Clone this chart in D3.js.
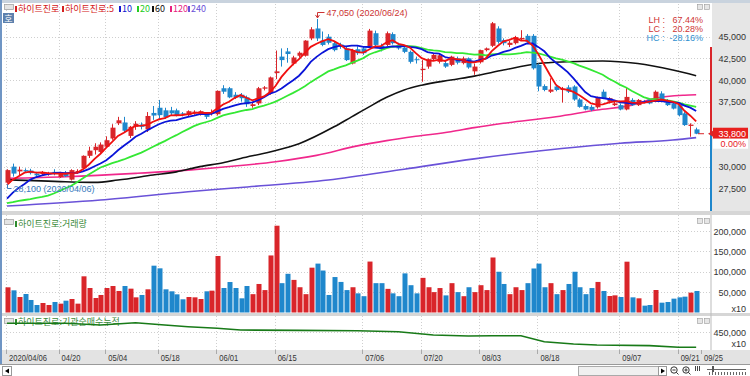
<!DOCTYPE html>
<html>
<head>
<meta charset="utf-8">
<script src="https://cdn.jsdelivr.net/npm/d3@7"></script>
<style>
  body { margin: 0; background: #fff; }
  svg { display: block; }
  .num { font-family: "Liberation Sans", Arial, sans-serif; font-size: 9px; }
  .kr { font-family: "Noto Sans CJK KR", sans-serif; font-size: 9px; }
</style>
</head>
<body>
<svg id="chart" width="750" height="376"></svg>
<script>
// trading days shown (2020)
const dates = [
  "04/06","04/07","04/08","04/09","04/10","04/13","04/14","04/16","04/17",
  "04/20","04/21","04/22","04/23","04/24","04/27","04/28","04/29",
  "05/04","05/06","05/07","05/08","05/11","05/12","05/13","05/14","05/15",
  "05/18","05/19","05/20","05/21","05/22","05/25","05/26","05/27","05/28","05/29",
  "06/01","06/02","06/03","06/04","06/05","06/08","06/09","06/10","06/11","06/12",
  "06/15","06/16","06/17","06/18","06/19","06/22","06/23","06/24","06/25","06/26","06/29","06/30",
  "07/01","07/02","07/03","07/06","07/07","07/08","07/09","07/10","07/13","07/14","07/15","07/16","07/17",
  "07/20","07/21","07/22","07/23","07/24","07/27","07/28","07/29","07/30","07/31",
  "08/03","08/04","08/05","08/06","08/07","08/10","08/11","08/12","08/13","08/14",
  "08/18","08/19","08/20","08/21","08/24","08/25","08/26","08/27","08/28","08/31",
  "09/01","09/02","09/03","09/04","09/07","09/08","09/09","09/10","09/11",
  "09/14","09/15","09/16","09/17","09/18","09/21","09/22","09/23","09/24"
];
const axisEnd = "09/25";

const opens = [
  28150,30000,29450,29600,29550,29200,29150,29100,29400,28800,29300,28500,29300,29800,31250,31900,31700,32300,33250,35000,
  35100,33550,34600,34850,34300,36200,36800,36500,36500,36500,36150,35950,36200,36050,36150,36100,36050,39050,39050,38300,
  38300,38000,37000,37300,39000,38500,40800,42700,43300,41900,42800,42800,44800,45950,44550,45000,44250,44100,43650,41900,
  43550,43650,43850,45400,43950,44050,45300,44050,43750,43250,42400,41150,41550,42400,42100,41950,41750,42500,41950,42500,
  41000,42050,43450,43950,45950,44600,44050,44250,44700,45100,45100,41750,39300,38650,39250,38850,39150,39250,37750,37000,
  36900,36850,38650,37500,37100,37100,36600,37700,37100,37500,37750,37700,38450,37700,37300,37100,36150,34700,34300
];
const highs = [
  29700,30350,30000,29800,29750,29400,29500,29400,29700,29400,29500,29700,29700,31300,32300,32700,32800,33500,34900,35750,
  35750,34700,35250,35100,36300,37000,37700,36800,36900,36700,36300,36500,36500,36500,36300,36600,38800,39400,39200,38600,
  38500,38200,37400,39200,39300,40400,43400,43650,43700,42800,43300,44600,46100,47050,45600,45300,44500,44300,43900,43600,
  43900,43900,45900,45700,44200,45600,45500,44300,44000,43400,42700,42300,42500,43100,43000,42200,42800,42700,42700,42600,
  41900,43500,43750,46700,46200,44800,44500,45100,45750,45300,45300,41900,39500,40200,39500,39200,39400,39400,37900,37200,
  37100,38100,38900,38000,37500,37300,39150,37900,37800,37700,37900,38800,38700,37800,37400,37200,36300,35000,34500
];
const lows = [
  28100,28850,29000,29300,29100,28900,29000,28950,29000,28700,28800,28400,29200,29700,31000,31400,31600,32200,33100,34800,
  33950,33300,34250,34300,34000,35400,35500,35500,35900,35800,35800,35800,36000,35900,35500,35900,35900,38400,37900,37800,
  37500,36900,36800,37100,38800,38300,40100,41550,42000,41700,42600,42700,44600,44500,43900,44100,43300,43600,42200,41800,
  42900,42900,43700,43900,43300,43900,44100,43500,43100,41900,41900,39800,41300,42200,41900,41400,41600,41800,41800,41300,
  40600,41900,43300,43800,44200,44000,43800,44100,44500,44300,41200,38700,38700,38500,38700,37400,38500,37600,36800,36500,
  36400,36700,37800,37300,37000,36500,36500,37000,37000,37300,37200,37600,37600,37000,36600,35800,34700,33450,33750
];
const closes = [
  29600,29200,29650,29450,29250,29000,29300,29250,29150,29300,28900,29600,29500,31250,31850,32300,32550,33050,34500,35350,
  34150,34600,34950,34600,35850,35900,35950,35700,36150,35950,36050,36400,36350,36400,35750,36300,38750,38650,38000,38000,
  37900,37200,37200,39050,39150,40300,41000,42300,43000,42600,43150,44550,45850,44800,44050,44300,43450,43850,42300,43450,
  43100,43100,45700,44050,43550,45400,44250,43650,43250,42100,42300,41300,42400,42900,42850,41550,42700,42000,42500,41450,
  41550,43450,43650,46550,44400,44250,44300,44950,44850,44400,41350,39250,38850,38900,38850,39000,38650,37750,36900,36600,
  36550,38000,37900,37900,37300,36600,38050,37100,37700,37400,37300,38650,37700,37100,36700,35950,34800,34850,33800
];
// volume (x10 shares)
const volumes = [
  61800,54400,38000,45400,30700,18400,23300,18400,25800,21700,29000,33100,21700,88800,60100,35600,43000,60100,65000,52800,
  65000,58500,37200,43000,56900,114900,108400,56900,52000,44600,32400,38000,37200,33100,52000,53600,138700,60100,74800,60100,
  34800,65000,45000,70000,55000,140000,213000,72000,95000,80000,62000,45000,110000,120000,103000,43000,87000,75000,55000,62000,
  47000,40000,125000,72000,72000,58000,47000,40000,96000,67000,47000,85000,62000,50000,60000,42000,72000,50000,40000,62000,
  50000,67000,55000,135000,100000,70000,45000,62000,55000,72000,108000,120000,62000,72000,45000,55000,70000,100000,62000,45000,
  60000,75000,52800,40500,42100,38000,124700,37200,34800,16800,18400,55200,24100,25800,34000,37200,38900,48700,52800
];

const ma5Head = [27900, 28500, 28900, 29300];
const ma10Head = [26300, 27000, 27550, 28000, 28500, 28800, 29000, 29150, 29250];
const ma20Head = [25800, 25900, 26050, 26150, 26250, 26400, 26500, 26650, 26900, 27200,
                  27500, 27800, 28200, 28650, 29100, 29500, 29900, 30150, 30400];
// long averages: [day index, price]
const ma60Pts = [[0,28500],[10,28250],[15,28180],[19,28450],[25,29030],[29,29400],[33,30000],[37,30450],[40,30950],
  [45,31700],[50,32650],[56,34600],[59,35750],[62,36900],[65,38000],[68,38850],[71,39400],[76,40000],[80,40450],
  [85,41150],[91,41900],[96,42100],[102,42200],[108,41900],[114,41150],[118,40500]];
const ma120Pts = [[0,28650],[10,28830],[22,29220],[31,29600],[39,30070],[46,30570],[53,31300],[60,32400],[65,33000],
  [70,33500],[76,34030],[80,34500],[85,35000],[94,35760],[101,36530],[107,37100],[111,37900],[116,38250],[118,38300]];
const ma240Pts = [[0,25450],[16,26150],[31,27100],[40,27600],[55,28450],[68,29700],[80,30900],[91,31800],
  [105,32700],[114,33070],[118,33350]];
// institutional net buying, cumulative (x10)
const instPts = [[0,493500],[10,493500],[16,485000],[22,496500],[27,485000],[31,476500],[36,468500],[40,460000],
  [50,458000],[60,456000],[67,451500],[73,435000],[79,430000],[83,431500],[88,431500],[92,401500],[97,390000],
  [101,385000],[110,382000],[115,373500],[118,373500]];

const priceTicks = [27500, 30000, 32500, 35000, 37500, 40000, 42500, 45000];
const volTicks = [50000, 100000, 150000, 200000];
const instTicks = [450000];
const dateTicks = ["04/06","04/20","05/04","05/18","06/01","06/15","07/06","07/20","08/03","08/18","09/07","09/21","09/25"];

const RED = "#d9252a", BLUE = "#1f87cc";
const fmt = d3.format(",");
const svg = d3.select("#chart");
const plotL = 4, plotR = 711;

// scales
const x = d3.scalePoint().domain(dates.concat([axisEnd])).range([7, 702]);
const yP = d3.scaleLinear().domain([27500, 45000]).range([188.3, 36.7]);
const yV = d3.scaleLinear().domain([0, 200000]).range([312.5, 231]);
const yI = d3.scaleLinear().domain([450000, 500000]).range([332, 322]);

// moving averages
const sma = (n, head) => closes.map((c, i) =>
  i < n - 1 ? head[i] : d3.mean(closes.slice(i - n + 1, i + 1)));
const ma5 = sma(5, ma5Head), ma10 = sma(10, ma10Head), ma20 = sma(20, ma20Head);

// frame & backgrounds
svg.append("rect").attr("width", 750).attr("height", 376).attr("fill", "#fff");
svg.append("rect").attr("x", 712).attr("y", 3).attr("width", 38).attr("height", 209).attr("fill", "#e6e6e6");
svg.append("rect").attr("x", 0).attr("y", 0).attr("width", 750).attr("height", 3).attr("fill", "#c9d3de");
svg.append("rect").attr("x", 0).attr("y", 0).attr("width", 2).attr("height", 364).attr("fill", "#6f95c4");
[[211, 4], [313, 3]].forEach(([y, h]) =>
  svg.append("rect").attr("x", 2).attr("y", y).attr("width", 748).attr("height", h).attr("fill", "#d6d6d6"));
svg.append("line").attr("x1", plotR).attr("x2", plotR).attr("y1", 215).attr("y2", 350).attr("stroke", "#bbb");
// date axis strip
svg.append("rect").attr("x", 2).attr("y", 350).attr("width", 748).attr("height", 14).attr("fill", "#e3e3e3");
svg.append("line").attr("x1", 0).attr("x2", 750).attr("y1", 364.5).attr("y2", 364.5).attr("stroke", "#9a9a9a");

// grid
const grid = svg.append("g").attr("stroke", "#cfcfcf").attr("stroke-dasharray", "1,2");
priceTicks.forEach(p => grid.append("line").attr("x1", plotL).attr("x2", plotR)
  .attr("y1", Math.round(yP(p)) + 0.5).attr("y2", Math.round(yP(p)) + 0.5));
volTicks.forEach(v => grid.append("line").attr("x1", plotL).attr("x2", plotR)
  .attr("y1", Math.round(yV(v)) + 0.5).attr("y2", Math.round(yV(v)) + 0.5));
instTicks.forEach(v => grid.append("line").attr("x1", plotL).attr("x2", plotR)
  .attr("y1", Math.round(yI(v)) + 0.5).attr("y2", Math.round(yI(v)) + 0.5));
dateTicks.slice(0, -1).forEach(d => {
  const gx = Math.round(x(d) - 1) + 0.5;
  [[4, 211], [215, 313], [316, 350]].forEach(([a, b]) =>
    grid.append("line").attr("x1", gx).attr("x2", gx).attr("y1", a).attr("y2", b));
});

// clip for price panel
svg.append("clipPath").attr("id", "clipP").append("rect")
  .attr("x", plotL).attr("y", 4).attr("width", plotR - plotL).attr("height", 207);
const pg = svg.append("g").attr("clip-path", "url(#clipP)");

const line = (vals) => d3.line().x((d, i) => x(dates[i])).y(d => yP(d))(vals);
const ptsLine = d3.line().x(d => x(dates[d[0]])).y(d => yP(d[1])).curve(d3.curveMonotoneX);

// long MAs under the candles
[[ma240Pts, "#6a52d8", 1.6], [ma120Pts, "#f0288c", 1.6], [ma60Pts, "#111", 1.6]].forEach(([pts, c, w]) =>
  pg.append("path").attr("d", ptsLine(pts)).attr("fill", "none").attr("stroke", c).attr("stroke-width", w));

// candles
const candle = pg.selectAll(".candle").data(d3.range(closes.length)).enter().append("g");
candle.append("line")
  .attr("x1", i => Math.round(x(dates[i])) + 0.5).attr("x2", i => Math.round(x(dates[i])) + 0.5)
  .attr("y1", i => yP(highs[i])).attr("y2", i => yP(lows[i]))
  .attr("stroke", i => closes[i] >= opens[i] ? RED : BLUE);
candle.append("rect")
  .attr("x", i => Math.round(x(dates[i])) - 1.5).attr("width", 5)
  .attr("y", i => yP(Math.max(opens[i], closes[i])))
  .attr("height", i => Math.max(1, yP(Math.min(opens[i], closes[i])) - yP(Math.max(opens[i], closes[i]))))
  .attr("fill", i => closes[i] >= opens[i] ? RED : BLUE);

// short MAs over the candles
[[ma20, "#34e834"], [ma10, "#0a14d8"], [ma5, "#f01010"]].forEach(([vals, c]) =>
  pg.append("path").attr("d", line(vals)).attr("fill", "none").attr("stroke", c).attr("stroke-width", 1.8));

// high / low annotations
const hi = d3.maxIndex(highs), lo = d3.minIndex(lows);
const hx = Math.round(x(dates[hi])) + 0.5, hy = yP(highs[hi]);
svg.append("path").attr("d", `M${hx},${hy - 1}V12.5H${hx + 7}`).attr("fill", "none").attr("stroke", "#c33");
svg.append("path").attr("d", `M${hx - 2},${hy - 4}L${hx},${hy - 1}L${hx + 2},${hy - 4}`).attr("fill", "none").attr("stroke", "#c33");
svg.append("text").attr("class", "num").attr("x", hx + 9).attr("y", 16).attr("fill", "#c33")
  .text(`${fmt(highs[hi])} (2020/${dates[hi]})`);
const lx = Math.round(x(dates[lo])) + 0.5, ly = yP(lows[lo]);
svg.append("path").attr("d", `M${lx},${ly + 1}V188.5H${lx + 4}`).attr("fill", "none").attr("stroke", "#3a7cc0");
svg.append("text").attr("class", "num").attr("x", lx + 6).attr("y", 192).attr("fill", "#3a7cc0")
  .text(`${fmt(lows[lo])} (2020/${dates[lo]})`);

// current price
const last = closes[closes.length - 1];
const cy = yP(last);

// price axis labels (the one under the current-price tag is hidden, as in the source)
priceTicks.filter(p => Math.abs(yP(p) - cy) > 14).forEach(p =>
  svg.append("text").attr("class", "num").attr("x", 746).attr("y", yP(p) + 3.5)
    .attr("text-anchor", "end").attr("fill", "#333").text(fmt(p)));

svg.append("rect").attr("x", 710).attr("y", 47).attr("width", 2).attr("height", cy - 47).attr("fill", RED);
svg.append("rect").attr("x", 710).attr("y", cy).attr("width", 2).attr("height", 211 - cy).attr("fill", BLUE);
svg.append("line").attr("x1", 698).attr("x2", 704).attr("y1", cy).attr("y2", cy).attr("stroke", RED);
svg.append("path").attr("d", `M708,${cy}L713,${cy - 3}V${cy + 3}Z`).attr("fill", RED);
svg.append("rect").attr("x", 713).attr("y", cy - 6).attr("width", 35).attr("height", 11).attr("fill", "#e8201e");
svg.append("text").attr("class", "num").attr("x", 746).attr("y", cy + 3.5).attr("text-anchor", "end")
  .attr("fill", "#fff").text(fmt(last));
svg.append("rect").attr("x", 713).attr("y", cy + 5).attr("width", 35).attr("height", 10).attr("fill", "#fff");
svg.append("text").attr("class", "num").attr("x", 746).attr("y", cy + 13).attr("text-anchor", "end")
  .attr("fill", "#e8201e").text("0.00%");

// LH / LC / HC
const stats = [["LH", (highs[hi] / lows[lo] - 1) * 100, "#d03535"],
               ["LC", (last / lows[lo] - 1) * 100, "#d03535"],
               ["HC", (last / highs[hi] - 1) * 100, "#2f8fcf"]];
stats.forEach(([k, v, c], j) => {
  const val = (v >= 0 ? "\u00a0" : "") + v.toFixed(2) + "%";
  svg.append("text").attr("class", "num").attr("font-size", 7.5).attr("x", 703).attr("y", 23 + j * 9)
    .attr("text-anchor", "end").attr("fill", c).text(`${k} :\u00a0\u00a0${val}`);
});

// legend top
const icon = (ix, iy) => svg.append("rect").attr("x", ix).attr("y", iy).attr("width", 9).attr("height", 5)
  .attr("fill", "#e4e4e4").attr("stroke", "#9a9a9a").attr("stroke-width", 0.7);
icon(4.5, 4.5);
svg.append("rect").attr("x", 3).attr("y", 13).attr("width", 11).attr("height", 10).attr("fill", "#5d80ad");
svg.append("text").attr("class", "kr").attr("x", 8.5).attr("y", 21.5).attr("text-anchor", "middle")
  .attr("fill", "#fff").attr("font-size", 8).text("호");
const legend = [["하이트진로", "#d42020", 15], ["하이트진로:5", "#d42020", 62], ["10", "#1018d0", 119],
  ["20", "#22cc22", 137], ["60", "#111", 152], ["120", "#e8207f", 170], ["240", "#6a52d8", 188]];
legend.forEach(([t, c, lxp]) => {
  svg.append("rect").attr("x", lxp).attr("y", 6).attr("width", 2).attr("height", 6).attr("fill", c);
  svg.append("text").attr("class", "kr").attr("x", lxp + 3).attr("y", 12).attr("fill", c).text(t);
});
[[697.5, 4.5], [704.5, 4.5], [697.5, 218.5], [704.5, 218.5], [697.5, 318.5], [704.5, 318.5]].forEach(([a, b]) =>
  svg.append("rect").attr("x", a).attr("y", b).attr("width", 5).attr("height", 5)
    .attr("fill", "#e6e6e6").attr("stroke", "#999").attr("stroke-width", 0.6));

// volume bars
svg.selectAll(".vol").data(volumes).enter().append("rect")
  .attr("x", (d, i) => Math.round(x(dates[i])) - 1.5).attr("width", 5)
  .attr("y", d => yV(d)).attr("height", d => yV(0) - yV(d))
  .attr("fill", (d, i) => closes[i] >= opens[i] ? RED : BLUE);
icon(4.5, 219.5);
svg.append("rect").attr("x", 15).attr("y", 221).attr("width", 2).attr("height", 6).attr("fill", "#2e8b2e");
svg.append("text").attr("class", "kr").attr("x", 18).attr("y", 227).attr("fill", "#3b8a3b").text("하이트진로:거래량");
volTicks.forEach(v => svg.append("text").attr("class", "num").attr("x", 746).attr("y", yV(v) + 3.5)
  .attr("text-anchor", "end").attr("fill", "#333").text(fmt(v)));
svg.append("text").attr("class", "num").attr("x", 746).attr("y", 312).attr("text-anchor", "end")
  .attr("fill", "#333").text("x10");

// institutional cumulative line
icon(4.5, 318.5);
svg.append("rect").attr("x", 15).attr("y", 319).attr("width", 2).attr("height", 6).attr("fill", "#2e8b2e");
svg.append("text").attr("class", "kr").attr("x", 18).attr("y", 325).attr("fill", "#3b8a3b").text("하이트진로:기관순매수누적");
svg.append("path")
  .attr("d", d3.line().x(d => x(dates[d[0]])).y(d => yI(d[1]))(instPts))
  .attr("fill", "none").attr("stroke", "#187a18").attr("stroke-width", 1.6);
instTicks.forEach(v => svg.append("text").attr("class", "num").attr("x", 746).attr("y", yI(v) + 3.5)
  .attr("text-anchor", "end").attr("fill", "#333").text(fmt(v)));
svg.append("text").attr("class", "num").attr("x", 746).attr("y", 347).attr("text-anchor", "end")
  .attr("fill", "#333").text("x10");

// date axis labels (narrow, like the source font)
dateTicks.forEach((d, j) => {
  const tx = Math.round(x(d) - 1) + 0.5;
  const label = j === 0 ? "2020/" + d : d;
  svg.append("line").attr("x1", tx).attr("x2", tx).attr("y1", 350).attr("y2", 354).attr("stroke", "#aaa");
  svg.append("text").attr("class", "num").attr("x", x(d) + 2).attr("y", 361).attr("fill", "#333")
    .attr("textLength", label.length * 3.8).attr("lengthAdjust", "spacingAndGlyphs")
    .text(label);
});

// bottom scroll bar
svg.append("rect").attr("x", 2.5).attr("y", 366.5).attr("width", 9).attr("height", 9).attr("fill", "#fff").attr("stroke", "#999");
svg.append("path").attr("d", "M5,371L9,368.5V373.5Z").attr("fill", "#000");
svg.append("rect").attr("x", 578.5).attr("y", 366.5).attr("width", 80).attr("height", 9).attr("fill", "#f0f0f0").attr("stroke", "#aaa");
svg.append("rect").attr("x", 658.5).attr("y", 366.5).attr("width", 8).attr("height", 9).attr("fill", "#fff").attr("stroke", "#999");
svg.append("path").attr("d", "M661,368.5L665,371L661,373.5Z").attr("fill", "#000");
[674, 686].forEach((cx, k) => {
  svg.append("circle").attr("cx", cx).attr("cy", 370).attr("r", 3.2).attr("fill", "none").attr("stroke", "#333");
  svg.append("line").attr("x1", cx + 2.3).attr("x2", cx + 4.5).attr("y1", 372.3).attr("y2", 374.5).attr("stroke", "#333");
  svg.append("line").attr("x1", cx - 1.6).attr("x2", cx + 1.6).attr("y1", 370).attr("y2", 370).attr("stroke", "#333");
  if (k) svg.append("line").attr("x1", cx).attr("x2", cx).attr("y1", 368.4).attr("y2", 371.6).attr("stroke", "#333");
});
[695, 697, 699].forEach(vx => svg.append("line").attr("x1", vx + 0.5).attr("x2", vx + 0.5)
  .attr("y1", 366).attr("y2", 371).attr("stroke", "#444"));
svg.append("line").attr("x1", 707).attr("x2", 746).attr("y1", 369.5).attr("y2", 369.5).attr("stroke", "#666");
svg.append("rect").attr("x", 712).attr("y", 366).attr("width", 2).attr("height", 6).attr("fill", "#555");
d3.range(709, 747, 3).forEach(tx => svg.append("line").attr("x1", tx + 0.5).attr("x2", tx + 0.5)
  .attr("y1", 372).attr("y2", 375).attr("stroke", "#666"));
</script>
</body>
</html>
